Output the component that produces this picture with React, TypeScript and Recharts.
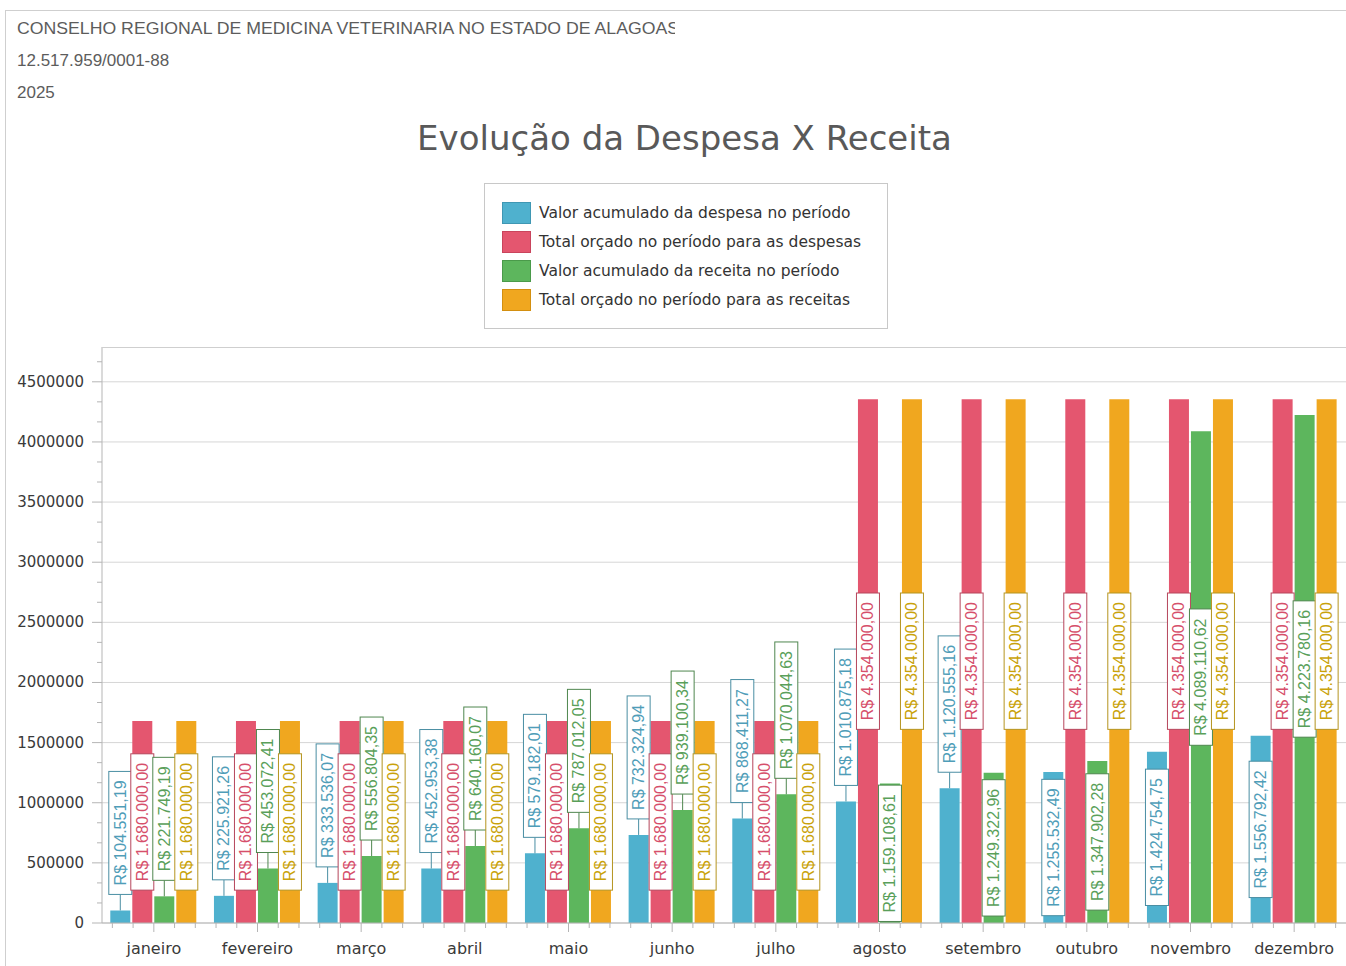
import React from 'react';
import { BarChart, Bar, XAxis, YAxis, CartesianGrid, LabelList } from 'recharts';

const months = ['janeiro', 'fevereiro', 'março', 'abril', 'maio', 'junho', 'julho', 'agosto', 'setembro', 'outubro', 'novembro', 'dezembro'];
const despesaAcumulada = [104551.19, 225921.26, 333536.07, 452953.38, 579182.01, 732324.94, 868411.27, 1010875.18, 1120555.16, 1255532.49, 1424754.75, 1556792.42];
const despesaOrcada = [1680000, 1680000, 1680000, 1680000, 1680000, 1680000, 1680000, 4354000, 4354000, 4354000, 4354000, 4354000];
const receitaAcumulada = [221749.19, 453072.41, 556804.35, 640160.07, 787012.05, 939100.34, 1070044.63, 1159108.61, 1249322.96, 1347902.28, 4089110.62, 4223780.16];
const receitaOrcada = [1680000, 1680000, 1680000, 1680000, 1680000, 1680000, 1680000, 4354000, 4354000, 4354000, 4354000, 4354000];

const seriesNames = [
  'Valor acumulado da despesa no período',
  'Total orçado no período para as despesas',
  'Valor acumulado da receita no período',
  'Total orçado no período para as receitas',
];
const yTickValues = [0, 500000, 1000000, 1500000, 2000000, 2500000, 3000000, 3500000, 4000000, 4500000];
const yAxisMax = 4789400;
const headerLines = ['CONSELHO REGIONAL DE MEDICINA VETERINARIA NO ESTADO DE ALAGOAS', '12.517.959/0001-88', '2025'];
const chartTitle = 'Evolução da Despesa X Receita';

const data = months.map((m, i) => ({
  month: m,
  despesaAcumulada: despesaAcumulada[i],
  despesaOrcada: despesaOrcada[i],
  receitaAcumulada: receitaAcumulada[i],
  receitaOrcada: receitaOrcada[i],
}));

const series = [
  { key: 'despesaAcumulada', name: seriesNames[0], fill: '#4fb1ce', stroke: '#3f97b3', text: '#4f9db8', border: '#4a8ea3' },
  { key: 'despesaOrcada', name: seriesNames[1], fill: '#e4566f', stroke: '#c9445c', text: '#d64f6b', border: '#b6465c' },
  { key: 'receitaAcumulada', name: seriesNames[2], fill: '#5db65d', stroke: '#4a9a4a', text: '#5a9f5a', border: '#4f874f' },
  { key: 'receitaOrcada', name: seriesNames[3], fill: '#f0a71f', stroke: '#d38f10', text: '#c9a20a', border: '#b59420' },
];

// Build minor y ticks (thirds between labelled ticks)
const yStep = yTickValues[1] - yTickValues[0];
const yAllTicks: number[] = [];
yTickValues.forEach((v) => {
  yAllTicks.push(v, v + yStep / 3, v + (2 * yStep) / 3);
});
const yTicksInDomain = yAllTicks.filter((v) => v <= yAxisMax);

const W = 1346;
const H = 966;
const MARGIN = { top: 347, right: 0, left: 8, bottom: 13 };
const Y_AXIS_W = 94;
const X_AXIS_H = 30;
const PLOT_W = W - MARGIN.left - Y_AXIS_W - MARGIN.right;
const BAND = PLOT_W / months.length;

function formatBRL(v: number) {
  const fixed = v.toFixed(2);
  const [int, dec] = fixed.split('.');
  const withDots = int.replace(/\B(?=(\d{3})+(?!\d))/g, '.');
  return `R$ ${withDots},${dec}`;
}

function textWidth(s: string) {
  // approx Liberation Sans at 16px
  let w = 0;
  for (const ch of s) {
    if (/[0-9$]/.test(ch)) w += 8.9;
    else if (ch === 'R') w += 11.55;
    else w += 4.45;
  }
  return w;
}

const makeLabel = (s: typeof series[number]) => (props: any) => {
  const { x, y, width, height, value } = props;
  if (value == null) return null;
  const txt = formatBRL(Number(value));
  const boxLen = textWidth(txt) + 18;
  const cx = Number(x) + Number(width) / 2;
  const top = Number(y);
  const h = Number(height);
  const inside = h >= boxLen;
  const conn = 16;
  const cy = inside ? top + h / 2 : top - conn - boxLen / 2;
  const boxW = 23;
  return (
    <g>
      {!inside && <line x1={cx} x2={cx} y1={top - conn} y2={top} stroke={s.border} strokeWidth={1} />}
      <rect x={cx - boxW / 2} y={cy - boxLen / 2} width={boxW} height={boxLen} fill="#ffffff" stroke={s.border} strokeWidth={1} />
      <text
        x={cx}
        y={cy}
        transform={`rotate(-90 ${cx} ${cy})`}
        textAnchor="middle"
        dominantBaseline="central"
        fontFamily="'Liberation Sans', Arial, sans-serif"
        fontSize={16}
        fill={s.text}
      >
        {txt}
      </text>
    </g>
  );
};

const YTick = (props: any) => {
  const { x, y, payload } = props;
  const v = payload.value;
  const major = yTickValues.some((t) => Math.abs(t - v) < 1);
  return (
    <g>
      <line x1={x - (major ? 10 : 5)} x2={x} y1={y} y2={y} stroke="#b5b5b5" />
      {major && (
        <text x={x - 18} y={y} textAnchor="end" dominantBaseline="central" fontFamily="'DejaVu Sans', sans-serif" fontSize={15} fill="#3a3a3a">
          {String(Math.round(v))}
        </text>
      )}
    </g>
  );
};

const XTick = (props: any) => {
  const { x, y, payload } = props;
  const minors = [-2, -1, 1, 2];
  return (
    <g>
      <line x1={x} x2={x} y1={y} y2={y + 9} stroke="#b5b5b5" />
      {minors.map((k) => (
        <line key={k} x1={x + (k * BAND) / 5} x2={x + (k * BAND) / 5} y1={y} y2={y + 5} stroke="#b5b5b5" />
      ))}
      <text x={x} y={y + 25} textAnchor="middle" dominantBaseline="central" fontFamily="'DejaVu Sans', sans-serif" fontSize={16} fill="#3a3a3a">
        {payload.value}
      </text>
    </g>
  );
};

export default function App() {
  return (
    <div style={{ position: 'absolute', left: 0, top: 0, width: W, height: H, background: '#ffffff', overflow: 'hidden' }}>
      <BarChart
        width={W}
        height={H}
        data={data}
        margin={MARGIN}
        barCategoryGap="8%"
        barGap={2}
      >
        <CartesianGrid vertical={false} horizontalValues={yTickValues} stroke="#d6d6d6" />
        <XAxis
          dataKey="month"
          height={X_AXIS_H}
          tickLine={false}
          tickSize={0}
          tickMargin={0}
          interval={0}
          axisLine={{ stroke: '#b5b5b5' }}
          tick={<XTick />}
        />
        <YAxis
          type="number"
          domain={[0, yAxisMax]}
          ticks={yTicksInDomain}
          interval={0}
          width={Y_AXIS_W}
          tickLine={false}
          tickSize={0}
          tickMargin={0}
          axisLine={{ stroke: '#b5b5b5' }}
          tick={<YTick />}
        />
        {series.map((s) => (
          <Bar key={s.key} dataKey={s.key} name={s.name} fill={s.fill} isAnimationActive={false}>
            <LabelList dataKey={s.key} content={makeLabel(s)} />
          </Bar>
        ))}
      </BarChart>
      <svg width={W} height={H} style={{ position: 'absolute', left: 0, top: 0, pointerEvents: 'none' }}>
        <defs>
          <clipPath id="hdrclip">
            <rect x={0} y={0} width={675} height={120} />
          </clipPath>
        </defs>
        <line x1={5.5} x2={5.5} y1={10} y2={H} stroke="#cfcfcf" />
        <line x1={5} x2={W} y1={10.5} y2={10.5} stroke="#cfcfcf" />
        <g clipPath="url(#hdrclip)">
          {headerLines.map((t, i) => (
            <text
              key={i}
              x={17}
              y={34 + i * 32}
              fontFamily="'Liberation Sans', Arial, sans-serif"
              fontSize={17}
              fill="#5c5c5c"
              {...(i === 0 ? { textLength: 662, lengthAdjust: 'spacingAndGlyphs' } : {})}
            >
              {t}
            </text>
          ))}
        </g>
        <text x={684.5} y={150} textAnchor="middle" fontFamily="'DejaVu Sans', sans-serif" fontSize={34} fill="#595959">
          {chartTitle}
        </text>
        <rect x={484.5} y={183.5} width={403} height={145} fill="#ffffff" stroke="#c8c8c8" />
        {series.map((s, i) => (
          <g key={s.key}>
            <rect x={502.5} y={202.5 + i * 29} width={28} height={21} fill={s.fill} stroke={s.stroke} />
            <text x={539} y={213 + i * 29} dominantBaseline="central" fontFamily="'DejaVu Sans', sans-serif" fontSize={15.5} fill="#333333">
              {s.name}
            </text>
          </g>
        ))}
        <line x1={102} x2={W} y1={347.5} y2={347.5} stroke="#cfcfcf" />
      </svg>
    </div>
  );
}
